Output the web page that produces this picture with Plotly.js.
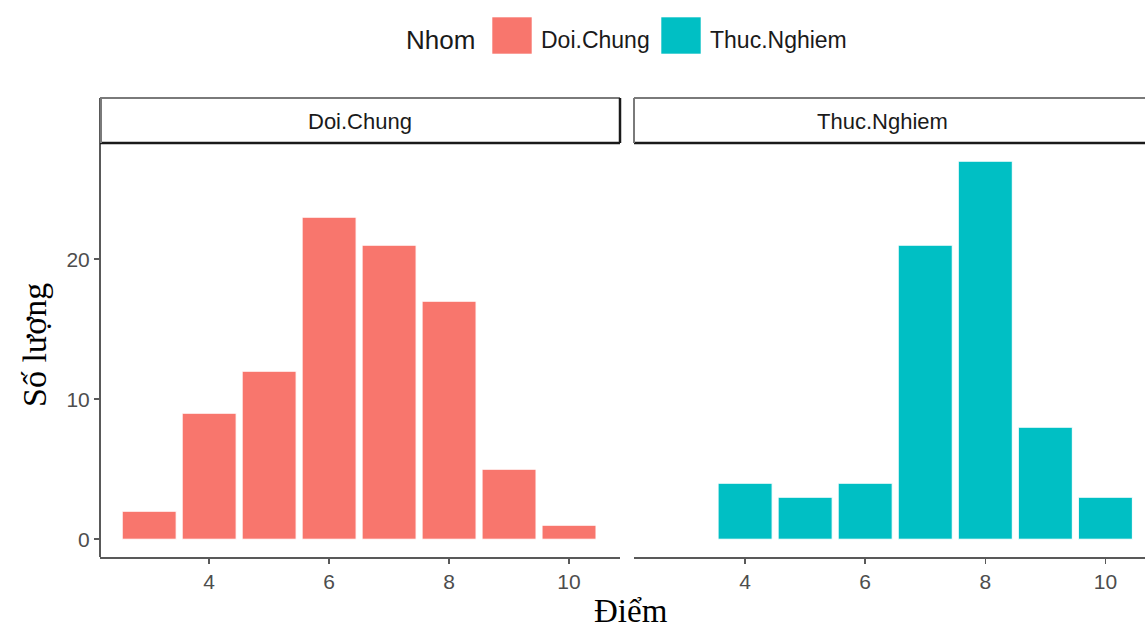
<!DOCTYPE html>
<html>
<head>
<meta charset="utf-8">
<script src="https://cdn.plot.ly/plotly-3.0.1.min.js"></script>
<style>html,body{margin:0;padding:0;background:#fff}#chart{width:1145px;height:632px}</style>
</head>
<body>
<div id="chart"></div>
<script>
// ---- data ----
const groups = ["Doi.Chung", "Thuc.Nghiem"];
const colors = ["#F8766D", "#00BFC4"];
const diemDoiChung = [3, 4, 5, 6, 7, 8, 9, 10];
const soLuongDoiChung = [2, 9, 12, 23, 21, 17, 5, 1];
const diemThucNghiem = [4, 5, 6, 7, 8, 9, 10];
const soLuongThucNghiem = [4, 3, 4, 21, 27, 8, 3];
const xTicks = [4, 6, 8, 10];
const yTicks = [0, 10, 20];
const xTitle = "Điểm";
const yTitle = "Số lượng";
const legendTitle = "Nhom";

// ---- geometry helpers (pixels -> paper) ----
const W = 1145, H = 632;
const px = v => v / W;
const py = v => (H - v) / H;

const traces = [
  {type: "bar", x: diemDoiChung, y: soLuongDoiChung, width: 0.9, name: groups[0],
   marker: {color: colors[0], line: {color: "#ffffff", width: 1}}, xaxis: "x", yaxis: "y", showlegend: false},
  {type: "bar", x: diemThucNghiem, y: soLuongThucNghiem, width: 0.9, name: groups[1],
   marker: {color: colors[1], line: {color: "#ffffff", width: 1}}, xaxis: "x2", yaxis: "y", showlegend: false}
];

const tickFont = {family: "Liberation Sans, Arial, sans-serif", size: 21, color: "#4d4d4d"};
const axisLine = "#595959";

const xBase = {
  tickvals: xTicks, ticktext: xTicks.map(String), ticks: "outside", ticklen: 5, tickwidth: 1.5, tickcolor: axisLine,
  showline: true, linecolor: axisLine, linewidth: 2, showgrid: false, zeroline: false,
  tickfont: tickFont, fixedrange: true
};

const layout = {
  width: W, height: H,
  margin: {l: 0, r: 0, t: 0, b: 0},
  paper_bgcolor: "#ffffff", plot_bgcolor: "#ffffff",
  bargap: 0,
  xaxis: Object.assign({}, xBase, {domain: [px(100), px(620)], range: [2.18, 10.85], anchor: "y"}),
  xaxis2: Object.assign({}, xBase, {domain: [px(634), 1], range: [2.15, 10.66], anchor: "y"}),
  yaxis: {
    domain: [py(557), py(143)], range: [-1.27, 28.3],
    tickvals: yTicks, ticktext: yTicks.map(String), ticks: "outside", ticklen: 5, tickwidth: 1.5, tickcolor: axisLine,
    showline: false, showgrid: false, zeroline: false, tickfont: tickFont, fixedrange: true, anchor: "x"
  },
  shapes: [
    // left y axis line (runs through strip)
    {type: "line", xref: "paper", yref: "paper", x0: px(100), x1: px(100), y0: py(98), y1: py(557), line: {color: axisLine, width: 2}},
    // strip boxes
    {type: "rect", xref: "paper", yref: "paper", x0: px(100), x1: px(620), y0: py(143), y1: py(98), fillcolor: "#ffffff", line: {width: 0}},
    {type: "line", xref: "paper", yref: "paper", x0: px(100), x1: px(620), y0: py(98), y1: py(98), line: {color: "#7a7a7a", width: 2}},
    {type: "line", xref: "paper", yref: "paper", x0: px(100), x1: px(620), y0: py(143), y1: py(143), line: {color: "#1a1a1a", width: 2.5}},
    {type: "line", xref: "paper", yref: "paper", x0: px(620), x1: px(620), y0: py(98), y1: py(143), line: {color: "#1a1a1a", width: 2.5}},
    {type: "line", xref: "paper", yref: "paper", x0: px(101), x1: px(101), y0: py(98), y1: py(143), line: {color: "#7a7a7a", width: 2}},
    {type: "line", xref: "paper", yref: "paper", x0: px(634), x1: 1, y0: py(98), y1: py(98), line: {color: "#7a7a7a", width: 2}},
    {type: "line", xref: "paper", yref: "paper", x0: px(634), x1: 1, y0: py(143), y1: py(143), line: {color: "#1a1a1a", width: 2.5}},
    {type: "line", xref: "paper", yref: "paper", x0: px(634), x1: px(634), y0: py(98), y1: py(143), line: {color: "#7a7a7a", width: 2}},
    // legend keys
    {type: "rect", xref: "paper", yref: "paper", x0: px(492), x1: px(532), y0: py(54), y1: py(17), fillcolor: colors[0], line: {color: "rgba(255,255,255,0.6)", width: 1}},
    {type: "rect", xref: "paper", yref: "paper", x0: px(661), x1: px(701), y0: py(54), y1: py(17), fillcolor: colors[1], line: {color: "rgba(255,255,255,0.6)", width: 1}}
  ],
  annotations: [
    {xref: "paper", yref: "paper", x: px(360), y: py(121), text: groups[0], showarrow: false, xanchor: "center", yanchor: "middle",
     font: {family: "Liberation Sans, Arial, sans-serif", size: 22, color: "#1a1a1a"}},
    {xref: "paper", yref: "paper", x: px(882), y: py(121), text: groups[1], showarrow: false, xanchor: "center", yanchor: "middle",
     font: {family: "Liberation Sans, Arial, sans-serif", size: 22, color: "#1a1a1a"}},
    {xref: "paper", yref: "paper", x: px(404), y: py(40), text: legendTitle, showarrow: false, xanchor: "left", yanchor: "middle",
     font: {family: "Liberation Sans, Arial, sans-serif", size: 26, color: "#1a1a1a"}},
    {xref: "paper", yref: "paper", x: px(539), y: py(40), text: groups[0], showarrow: false, xanchor: "left", yanchor: "middle",
     font: {family: "Liberation Sans, Arial, sans-serif", size: 23, color: "#1a1a1a"}},
    {xref: "paper", yref: "paper", x: px(708), y: py(40), text: groups[1], showarrow: false, xanchor: "left", yanchor: "middle",
     font: {family: "Liberation Sans, Arial, sans-serif", size: 23, color: "#1a1a1a"}},
    {xref: "paper", yref: "paper", x: px(631), y: py(631), text: xTitle, showarrow: false, xanchor: "center", yanchor: "bottom",
     font: {family: "Liberation Serif, Times New Roman, serif", size: 33, color: "#000000"}},
    {xref: "paper", yref: "paper", x: px(34), y: py(345), text: yTitle, showarrow: false, xanchor: "center", yanchor: "middle", textangle: -90,
     font: {family: "Liberation Serif, Times New Roman, serif", size: 34, color: "#000000"}}
  ]
};

Plotly.newPlot("chart", traces, layout, {displayModeBar: false, staticPlot: true});
</script>
</body>
</html>
